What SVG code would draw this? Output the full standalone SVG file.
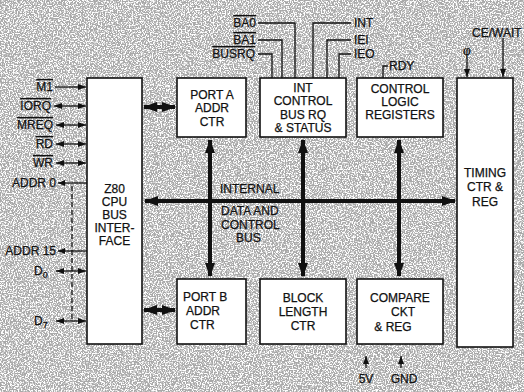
<svg xmlns="http://www.w3.org/2000/svg" width="524" height="392" viewBox="0 0 524 392">
<style>
text{font-family:"Liberation Sans",Arial,sans-serif;font-size:12px;fill:#111;stroke:#111;stroke-width:0.25;}
.c{text-anchor:middle;}
.r{text-anchor:end;}
.box{fill:#fff;stroke:#111;stroke-width:1.6;}
.bus{stroke:#111;stroke-width:4;fill:none;}
.thin{stroke:#111;stroke-width:1.3;fill:none;}
.ol{text-decoration:overline;}
</style>
<defs>
<filter id="noise" x="0" y="0" width="100%" height="100%">
<feTurbulence type="fractalNoise" baseFrequency="0.75" numOctaves="2" seed="3" result="n"/>
<feColorMatrix type="matrix" values="0 0 0 0 0  0 0 0 0 0  0 0 0 0 0  0 0 0 -6 3.3" result="a"/>
<feFlood flood-color="#ffffff"/>
<feComposite in2="a" operator="in"/>
</filter>
<marker id="big" viewBox="0 0 14 10" refX="13" refY="5" markerWidth="14" markerHeight="10" markerUnits="userSpaceOnUse" orient="auto-start-reverse">
<path d="M0,0 L14,5 L0,10 Z" fill="#111"/>
</marker>
<marker id="sm" viewBox="0 0 8 6" refX="8" refY="3" markerWidth="8" markerHeight="6" markerUnits="userSpaceOnUse" orient="auto-start-reverse">
<path d="M0,0 L8,3 L0,6 Z" fill="#111"/>
</marker>
</defs>
<rect x="0" y="0" width="524" height="392" fill="#a9a9a9"/>
<rect x="0" y="0" width="524" height="392" filter="url(#noise)"/>

<g id="connectors">
<line class="bus" x1="145" y1="201" x2="455" y2="201" marker-start="url(#big)" marker-end="url(#big)"/>
<line class="bus" x1="210" y1="140" x2="210" y2="276" marker-start="url(#big)" marker-end="url(#big)"/>
<line class="bus" x1="303" y1="140" x2="303" y2="276" marker-start="url(#big)" marker-end="url(#big)"/>
<line class="bus" x1="399" y1="140" x2="399" y2="276" marker-start="url(#big)" marker-end="url(#big)"/>
<line class="bus" x1="144" y1="107" x2="175" y2="107" marker-start="url(#big)" marker-end="url(#big)"/>
<line class="bus" x1="144" y1="310" x2="175" y2="310" marker-start="url(#big)" marker-end="url(#big)"/>
<line class="thin" x1="55" y1="87" x2="86" y2="87" marker-end="url(#sm)"/>
<line class="thin" x1="54" y1="106" x2="86" y2="106" marker-start="url(#sm)" marker-end="url(#sm)"/>
<line class="thin" x1="56" y1="125" x2="86" y2="125" marker-start="url(#sm)" marker-end="url(#sm)"/>
<line class="thin" x1="56" y1="144" x2="86" y2="144" marker-start="url(#sm)" marker-end="url(#sm)"/>
<line class="thin" x1="56" y1="163" x2="86" y2="163" marker-start="url(#sm)" marker-end="url(#sm)"/>
<line class="thin" x1="58" y1="183" x2="87" y2="183"/>
<path d="M58,183 l7,-3 v6 z" fill="#111"/>
<line class="thin" x1="58" y1="251" x2="87" y2="251"/>
<path d="M58,251 l7,-3 v6 z" fill="#111"/>
<line class="thin" x1="56" y1="271" x2="86" y2="271" marker-start="url(#sm)" marker-end="url(#sm)"/>
<line class="thin" x1="56" y1="321" x2="86" y2="321" marker-start="url(#sm)" marker-end="url(#sm)"/>
<line class="thin" x1="72" y1="186" x2="72" y2="320" stroke-dasharray="5,3"/>
<path class="thin" d="M258,23 H295 V78"/>
<path class="thin" d="M258,40 H282 V78"/>
<path class="thin" d="M258,54 H272 V78"/>
<path class="thin" d="M351,23 H313 V78"/>
<path class="thin" d="M351,40 H327 V78"/>
<path class="thin" d="M351,54 H339 V78"/>
<path class="thin" d="M383,78 V66 H388"/>
<line class="thin" x1="467" y1="58" x2="467" y2="77" marker-end="url(#sm)"/>
<line class="thin" x1="503" y1="38" x2="503" y2="77" marker-end="url(#sm)"/>
<line class="thin" x1="366" y1="368" x2="366" y2="356" marker-end="url(#sm)"/>
<line class="thin" x1="401" y1="368" x2="401" y2="356" marker-end="url(#sm)"/>
</g>

<g id="z80">
<rect class="box" x="87" y="78" width="55" height="266"/>
<text class="c" x="114.5" y="193">Z80</text>
<text class="c" x="114.5" y="206">CPU</text>
<text class="c" x="114.5" y="219">BUS</text>
<text class="c" x="114.5" y="232">INTER-</text>
<text class="c" x="114.5" y="245">FACE</text>
</g>
<g id="portA">
<rect class="box" x="177" y="78" width="69" height="59"/>
<text class="c" x="212" y="99">PORT A</text>
<text class="c" x="212" y="112">ADDR</text>
<text class="c" x="212" y="126">CTR</text>
</g>
<g id="intctrl">
<rect class="box" x="260" y="78" width="86" height="59"/>
<text class="c" x="303" y="92">INT</text>
<text class="c" x="303" y="105">CONTROL</text>
<text class="c" x="303" y="119">BUS RQ</text>
<text class="c" x="303" y="132">&amp; STATUS</text>
</g>
<g id="ctrllogic">
<rect class="box" x="357" y="78" width="86" height="59"/>
<text class="c" x="400" y="93">CONTROL</text>
<text class="c" x="400" y="106">LOGIC</text>
<text class="c" x="400" y="119">REGISTERS</text>
</g>
<g id="timing">
<rect class="box" x="457" y="78" width="56" height="269"/>
<text class="c" x="485" y="177">TIMING</text>
<text class="c" x="485" y="191">CTR &amp;</text>
<text class="c" x="485" y="206">REG</text>
</g>
<g id="portB">
<rect class="box" x="177" y="279" width="69" height="65"/>
<text x="183" y="301">PORT B</text>
<text x="186" y="315">ADDR</text>
<text x="190" y="329">CTR</text>
</g>
<g id="block">
<rect class="box" x="260" y="279" width="86" height="65"/>
<text class="c" x="303" y="302">BLOCK</text>
<text class="c" x="303" y="316">LENGTH</text>
<text class="c" x="303" y="330">CTR</text>
</g>
<g id="compare">
<rect class="box" x="357" y="279" width="86" height="65"/>
<text class="c" x="400" y="302">COMPARE</text>
<text class="c" x="403" y="316">CKT</text>
<text class="c" x="393" y="331">&amp; REG</text>
</g>

<g id="labels">
<text class="r ol" x="53" y="91">M1</text>
<text class="r ol" x="51" y="110">IORQ</text>
<text class="r ol" x="53" y="129">MREQ</text>
<text class="r ol" x="53" y="148">RD</text>
<text class="r ol" x="53" y="167">WR</text>
<text class="r" x="56" y="187">ADDR 0</text>
<text class="r" x="56" y="255">ADDR 15</text>
<text x="34" y="275">D<tspan dy="3" font-size="9">0</tspan></text>
<text x="34" y="325">D<tspan dy="3" font-size="9">7</tspan></text>
<text class="r ol" x="256" y="27">BA0</text>
<text class="r ol" x="256" y="44">BA1</text>
<text class="r ol" x="255" y="58">BUSRQ</text>
<text x="354" y="27">INT</text>
<text x="354" y="44">IEI</text>
<text x="354" y="58">IEO</text>
<text x="389" y="70">RDY</text>
<text class="c" x="467" y="55">φ</text>
<text x="472" y="37">CE/WAIT</text>
<text class="c" x="366" y="383">5V</text>
<text class="c" x="404" y="383">GND</text>
<text x="220" y="193">INTERNAL</text>
<text x="221" y="215">DATA AND</text>
<text x="221" y="229">CONTROL</text>
<text x="236" y="242">BUS</text>
</g>
</svg>
